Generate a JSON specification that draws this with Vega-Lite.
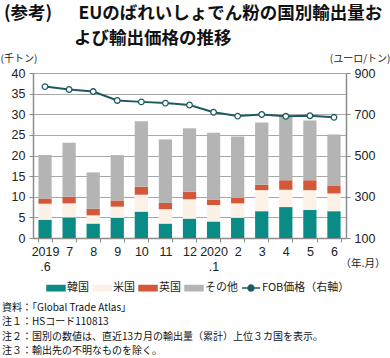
{
  "$schema": "https://vega.github.io/schema/vega-lite/v6.json",
  "background": "white",
  "padding": {"left": 0, "right": 0, "top": 4, "bottom": 0},
  "config": {
    "view": {"stroke": null},
    "font": "Noto Sans CJK JP"
  },
  "datasets": {
    "exports": [
      {"month": "2019 .6", "country": "韓国", "stack": 1, "kt": 4.4}, {"month": "2019 .6", "country": "米国", "stack": 2, "kt": 3.9}, {"month": "2019 .6", "country": "英国", "stack": 3, "kt": 1.3}, {"month": "2019 .6", "country": "その他", "stack": 4, "kt": 10.5},
      {"month": "7", "country": "韓国", "stack": 1, "kt": 5.0}, {"month": "7", "country": "米国", "stack": 2, "kt": 3.4}, {"month": "7", "country": "英国", "stack": 3, "kt": 1.6}, {"month": "7", "country": "その他", "stack": 4, "kt": 13.1},
      {"month": "8", "country": "韓国", "stack": 1, "kt": 3.5}, {"month": "8", "country": "米国", "stack": 2, "kt": 2.0}, {"month": "8", "country": "英国", "stack": 3, "kt": 1.6}, {"month": "8", "country": "その他", "stack": 4, "kt": 8.8},
      {"month": "9", "country": "韓国", "stack": 1, "kt": 4.9}, {"month": "9", "country": "米国", "stack": 2, "kt": 2.7}, {"month": "9", "country": "英国", "stack": 3, "kt": 1.5}, {"month": "9", "country": "その他", "stack": 4, "kt": 11.0},
      {"month": "10", "country": "韓国", "stack": 1, "kt": 6.4}, {"month": "10", "country": "米国", "stack": 2, "kt": 4.1}, {"month": "10", "country": "英国", "stack": 3, "kt": 1.9}, {"month": "10", "country": "その他", "stack": 4, "kt": 15.9},
      {"month": "11", "country": "韓国", "stack": 1, "kt": 3.5}, {"month": "11", "country": "米国", "stack": 2, "kt": 3.5}, {"month": "11", "country": "英国", "stack": 3, "kt": 1.5}, {"month": "11", "country": "その他", "stack": 4, "kt": 15.4},
      {"month": "12", "country": "韓国", "stack": 1, "kt": 4.7}, {"month": "12", "country": "米国", "stack": 2, "kt": 4.7}, {"month": "12", "country": "英国", "stack": 3, "kt": 1.8}, {"month": "12", "country": "その他", "stack": 4, "kt": 15.4},
      {"month": "2020 .1", "country": "韓国", "stack": 1, "kt": 4.0}, {"month": "2020 .1", "country": "米国", "stack": 2, "kt": 4.0}, {"month": "2020 .1", "country": "英国", "stack": 3, "kt": 1.3}, {"month": "2020 .1", "country": "その他", "stack": 4, "kt": 16.2},
      {"month": "2", "country": "韓国", "stack": 1, "kt": 4.9}, {"month": "2", "country": "米国", "stack": 2, "kt": 3.5}, {"month": "2", "country": "英国", "stack": 3, "kt": 1.3}, {"month": "2", "country": "その他", "stack": 4, "kt": 14.9},
      {"month": "3", "country": "韓国", "stack": 1, "kt": 6.5}, {"month": "3", "country": "米国", "stack": 2, "kt": 5.1}, {"month": "3", "country": "英国", "stack": 3, "kt": 1.3}, {"month": "3", "country": "その他", "stack": 4, "kt": 15.1},
      {"month": "4", "country": "韓国", "stack": 1, "kt": 7.5}, {"month": "4", "country": "米国", "stack": 2, "kt": 4.2}, {"month": "4", "country": "英国", "stack": 3, "kt": 2.3}, {"month": "4", "country": "その他", "stack": 4, "kt": 15.5},
      {"month": "5", "country": "韓国", "stack": 1, "kt": 6.8}, {"month": "5", "country": "米国", "stack": 2, "kt": 4.8}, {"month": "5", "country": "英国", "stack": 3, "kt": 2.4}, {"month": "5", "country": "その他", "stack": 4, "kt": 14.5},
      {"month": "6", "country": "韓国", "stack": 1, "kt": 6.5}, {"month": "6", "country": "米国", "stack": 2, "kt": 4.3}, {"month": "6", "country": "英国", "stack": 3, "kt": 1.8}, {"month": "6", "country": "その他", "stack": 4, "kt": 12.5}
    ],
    "fob": [
      {"month": "2019 .6", "series": "FOB価格（右軸）", "price": 834},
      {"month": "7", "series": "FOB価格（右軸）", "price": 820},
      {"month": "8", "series": "FOB価格（右軸）", "price": 810},
      {"month": "9", "series": "FOB価格（右軸）", "price": 767},
      {"month": "10", "series": "FOB価格（右軸）", "price": 760},
      {"month": "11", "series": "FOB価格（右軸）", "price": 754},
      {"month": "12", "series": "FOB価格（右軸）", "price": 745},
      {"month": "2020 .1", "series": "FOB価格（右軸）", "price": 710},
      {"month": "2", "series": "FOB価格（右軸）", "price": 691},
      {"month": "3", "series": "FOB価格（右軸）", "price": 699},
      {"month": "4", "series": "FOB価格（右軸）", "price": 690},
      {"month": "5", "series": "FOB価格（右軸）", "price": 693},
      {"month": "6", "series": "FOB価格（右軸）", "price": 685}
    ]
  },
  "title": {
    "text": ["(参考)　\u2002EUのばれいしょでん粉の国別輸出量お", "\u200b　　　　よび輸出価格の推移"],
    "anchor": "start",
    "frame": "bounds",
    "dx": 4,
    "font": "Noto Sans CJK JP",
    "fontSize": 17.5,
    "fontWeight": "bold",
    "lineHeight": 25,
    "color": "#111111",
    "offset": 6
  },
  "vconcat": [
    {
      "width": 313,
      "height": 165,
      "title": {
        "text": ["資料：「Global Trade Atlas」", "注１：HSコード110813", "注２：国別の数値は、直近13カ月の輸出量（累計）上位３カ国を表示。", "注３：輸出先の不明なものを除く。"],
        "orient": "bottom",
        "anchor": "start",
        "frame": "bounds",
        "dx": 2,
        "font": "Noto Sans CJK JP",
        "fontSize": 10,
        "fontWeight": "normal",
        "lineHeight": 14.5,
        "color": "#111111",
        "offset": 30
      },
      "layer": [
        {
          "data": {"name": "exports"},
          "mark": {"type": "bar"},
          "encoding": {
            "x": {
              "field": "month", "type": "ordinal",
              "scale": {"domain": ["2019 .6", "7", "8", "9", "10", "11", "12", "2020 .1", "2", "3", "4", "5", "6"], "paddingInner": 0.45, "paddingOuter": 0.225},
              "axis": {
                "title": "（年.月）",
                "titleFont": "Noto Sans CJK JP", "titleFontSize": 10.5, "titleFontWeight": "normal", "titleColor": "#222222",
                "titleX": 352, "titleY": 25, "titleAlign": "right", "titleBaseline": "middle", "titleAnchor": null,
                "labelExpr": "split(datum.label, ' ')",
                "labelFont": "Liberation Sans", "labelFontSize": 12.5, "labelColor": "#222222", "labelLineHeight": 15,
                "labelAngle": 0, "labelPadding": 3, "labelBaseline": "top",
                "tickBand": "extent", "tickSize": 4, "tickColor": "#8c8c8c", "domainColor": "#8c8c8c", "domainWidth": 1.5,
                "grid": false
              }
            },
            "y": {
              "field": "kt", "type": "quantitative", "stack": "zero",
              "scale": {"domain": [0, 40], "nice": false},
              "axis": {
                "values": [0, 5, 10, 15, 20, 25, 30, 35, 40],
                "title": "(千トン)",
                "titleFont": "Noto Sans CJK JP", "titleFontSize": 10, "titleFontWeight": "normal", "titleColor": "#222222",
                "titleAngle": 0, "titleX": -33, "titleY": -15, "titleAlign": "left", "titleBaseline": "middle", "titleAnchor": null,
                "labelFont": "Liberation Sans", "labelFontSize": 12.5, "labelColor": "#222222", "labelPadding": 4,
                "tickSize": 4, "tickColor": "#8c8c8c", "domainColor": "#8c8c8c", "domainWidth": 1.5,
                "grid": true, "gridColor": "#a8a8a8", "gridWidth": 1.2
              }
            },
            "order": {"field": "stack", "type": "quantitative", "sort": "ascending"},
            "color": {
              "field": "country", "type": "nominal",
              "scale": {
                "domain": ["韓国", "米国", "英国", "その他", "FOB価格（右軸）"],
                "range": ["#0b8b86", "#fbf1e6", "#d4573a", "#b4b4b4", "#1d5b61"]
              },
              "legend": {
                "orient": "none", "legendX": 13, "legendY": 205,
                "direction": "horizontal", "title": null,
                "symbolSize": 324, "symbolType": "M-1,-0.3H1V0.3H-1Z",
                "labelFont": "Noto Sans CJK JP", "labelFontSize": 11, "labelColor": "#222222",
                "labelOffset": 1, "columnPadding": 1,
                "encode": {
                  "symbols": {
                    "update": {
                      "shape": [
                        {"test": "datum.value === 'FOB価格（右軸）'", "value": "M-1,0H-0.33M0.33,0H1M-0.33,0A0.33,0.33,0,1,1,0.33,0A0.33,0.33,0,1,1,-0.33,0Z"},
                        {"value": "M-1,-0.3H1V0.3H-1Z"}
                      ],
                      "fill": [
                        {"test": "datum.value === 'FOB価格（右軸）'", "value": "white"},
                        {"scale": "color", "field": "value"}
                      ],
                      "stroke": [
                        {"test": "datum.value === 'FOB価格（右軸）'", "value": "#1d5b61"},
                        {"value": "transparent"}
                      ],
                      "strokeWidth": {"value": 1.5},
                      "opacity": {"value": 1},
                      "fillOpacity": {"value": 1}
                    }
                  }
                }
              }
            }
          }
        },
        {
          "data": {"name": "fob"},
          "layer": [
            {
              "mark": {"type": "line", "strokeWidth": 2},
              "encoding": {
                "x": {"field": "month", "type": "ordinal"},
                "y": {
                  "field": "price", "type": "quantitative",
                  "scale": {"domain": [100, 900], "nice": false},
                  "axis": {
                    "orient": "right",
                    "values": [100, 200, 300, 400, 500, 600, 700, 800, 900],
                    "title": "(ユーロ/トン)",
                    "titleFont": "Noto Sans CJK JP", "titleFontSize": 10, "titleFontWeight": "normal", "titleColor": "#222222",
                    "titleAngle": 0, "titleX": 44, "titleY": -15, "titleAlign": "right", "titleBaseline": "middle", "titleAnchor": null,
                    "labelFont": "Liberation Sans", "labelFontSize": 12.5, "labelColor": "#222222", "labelPadding": 4,
                    "tickSize": 4, "tickColor": "#8c8c8c", "domainColor": "#8c8c8c", "domainWidth": 1.5,
                    "grid": false
                  }
                },
                "color": {"field": "series", "type": "nominal"}
              }
            },
            {
              "mark": {"type": "point", "filled": true, "fill": "white", "stroke": "#1d5b61", "strokeWidth": 1.3, "size": 32, "opacity": 1},
              "encoding": {
                "x": {"field": "month", "type": "ordinal"},
                "y": {"field": "price", "type": "quantitative"}
              }
            }
          ]
        }
      ],
      "resolve": {"scale": {"y": "independent"}}
    }
  ]
}
